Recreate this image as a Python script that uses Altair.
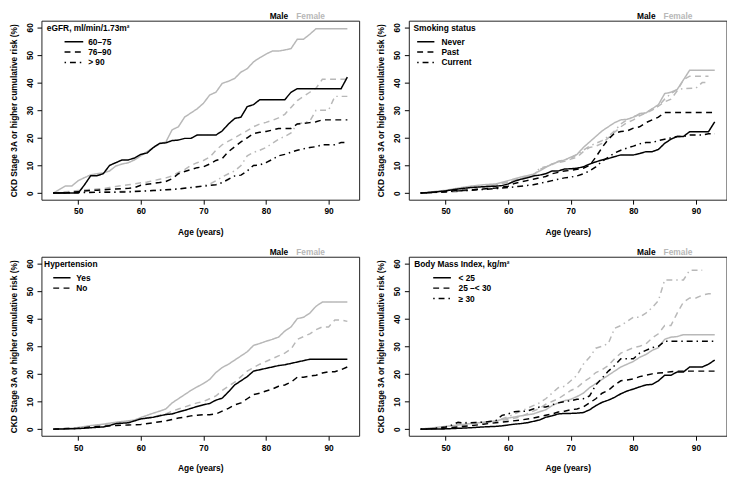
import altair as alt
import pandas as pd

FONT = "Liberation Sans"
BLACK = "#000000"
GREY = "#b8b8b8"
SEXES = ["Male", "Female"]
SEX_COLORS = [BLACK, GREY]
DASHES = [[1, 0], [6, 4.5], [1.5, 4, 6, 4]]
X_TICKS = [50, 60, 70, 80, 90]
Y_TICKS = [0, 10, 20, 30, 40, 50, 60]
X_DOMAIN = [44.12, 94.88]
Y_DOMAIN = [-2.4, 62.4]
X_TITLE = "Age (years)"
Y_TITLE = "CKD Stage 3A or higher cumulative risk (%)"

# ---- eGFR panel ----
egfr_groups = ["60–75", "76–90", "> 90"]
egfr_male_6075 = [(46,0),(50,0),(51,3),(52,6.3),(53,6.3),(54,7),(55,10),(56,11),(57,12),(58,12),(59,12.7),(60,14),(61,14.5),(62,16.5),(63,18),(64,18.2),(65,19),(66,19.2),(67,19.8),(68,19.8),(69,21),(72,21),(73,22.5),(74,25),(75,27),(76,27.5),(77,31.3),(78,32),(79,33.8),(83,33.8),(84,36.5),(85,37.8),(92,37.8),(93,42)]
egfr_female_6075 = [(46,0),(47,1.3),(48,2.6),(49,2.6),(50,4.5),(51,5.6),(52,6.6),(53,7),(54,7.3),(55,8),(56,9.8),(57,10.5),(58,11),(59,12),(60,13.5),(61,15),(62,16.5),(63,17.8),(64,18.5),(65,22.9),(66,24),(67,27.5),(68,29),(69,30.5),(70,32.5),(71,35.5),(72,36.5),(73,39.7),(74,40.5),(75,41.5),(76,43.8),(77,45),(78,47.5),(79,49),(80,50.3),(81,51.4),(82,51.4),(83,51.8),(84,52.3),(85,55.7),(86,55.7),(87,57.5),(88,59.5),(93,59.5)]
egfr_male_7690 = [(46,0),(48,0),(49,0.3),(50,0.5),(52,1),(53,1),(54,1.2),(56,1.5),(58,1.7),(59,2),(60,2.8),(61,3.2),(62,3.5),(63,3.8),(64,4.2),(65,5.2),(66,7),(67,7.8),(68,8.5),(69,9.2),(70,9.5),(71,10.5),(72,11.8),(73,12.5),(74,15),(75,16.8),(76,18.5),(77,20),(78,21.5),(79,22),(80,22.3),(81,22.8),(82,23.4),(84,23.4),(85,25),(86,25.2),(87,25.5),(88,25.8),(89,26.5),(93,26.5)]
egfr_female_7690 = [(46,0),(47,0.2),(48,0.5),(50,0.9),(52,1.3),(54,1.6),(55,2),(56,2.4),(57,2.7),(58,3),(59,3.3),(60,3.7),(61,4),(62,4.5),(63,5),(64,5.5),(65,6.2),(66,7.5),(67,8.5),(68,10),(69,11),(70,11.8),(71,13),(72,15.5),(73,17.5),(74,18.8),(75,20),(76,21.3),(77,22.6),(78,24),(79,25),(80,25.6),(81,26.3),(82,27.2),(83,28.5),(84,31),(85,33.5),(86,35),(87,36.5),(88,38),(89,41.2),(93,41.2)]
egfr_male_90 = [(46,0),(50,0.2),(55,0.3),(58,0.4),(60,0.7),(62,0.9),(64,1.2),(66,1.5),(68,2),(70,2.5),(72,3),(73,3.8),(74,5),(75,6.2),(76,6.5),(77,8),(78,10),(79,10.2),(80,11),(81,12.2),(82,13.5),(83,14),(84,14.8),(85,15.5),(86,16),(87,16.5),(88,16.8),(89,17.5),(91,17.5),(92,18.3),(93,18.3)]
egfr_female_90 = [(46,0),(50,0.3),(55,0.5),(60,0.8),(65,1.3),(68,2),(70,2.8),(71,3.3),(72,4.5),(73,5.8),(74,7),(75,8),(76,10),(77,13.5),(78,14.7),(79,15.5),(80,16.5),(81,18),(82,19.5),(83,20.5),(84,21.8),(85,25),(86,25.5),(87,26),(88,30),(90,30),(91,35),(93,35)]

# ---- Smoking panel ----
smoke_groups = ["Never", "Past", "Current"]
smoke_male_never = [(46,0),(48,0.3),(50,0.8),(52,1.5),(54,2),(56,2.3),(58,2.5),(59,2.7),(60,3.3),(61,4.3),(62,5),(63,5.5),(64,6.2),(65,6.5),(66,7),(67,8),(68,8),(69,8.7),(70,8.8),(71,9),(72,9.5),(73,10.5),(74,11.3),(75,12),(76,12.5),(77,13.2),(78,13.8),(80,13.8),(81,14.3),(82,15),(83,15),(84,15.8),(85,18),(86,19.5),(87,20.5),(88,20.5),(89,22.2),(92,22.2),(93,25.8)]
smoke_female_never = [(46,0),(48,0.5),(50,1),(52,1.8),(54,2.5),(56,3),(58,3.3),(60,4.5),(62,5.8),(64,6.8),(65,8),(66,9.3),(67,10.5),(68,11.3),(69,12),(70,13),(71,14),(72,16.5),(73,18.5),(74,20.5),(75,22.5),(76,24),(77,25.5),(78,26.5),(79,26.7),(80,27.5),(81,28.8),(82,29),(83,30.5),(84,32),(85,36),(86,36.5),(87,37.5),(88,41),(89,44.5),(93,44.5)]
smoke_male_past = [(46,0),(48,0.3),(50,0.5),(52,1),(54,1.2),(56,1.5),(58,1.8),(60,2.5),(61,3.5),(62,4),(63,4.5),(64,5),(65,5.5),(66,6),(67,7),(68,7.5),(69,8),(70,8.2),(71,8.6),(72,9),(73,10),(74,13),(75,16.5),(76,19.5),(77,21.7),(78,22.3),(79,22.5),(80,23.5),(81,24),(82,25.5),(83,26.5),(84,27.5),(85,29.2),(93,29.2)]
smoke_female_past = [(46,0),(48,0.2),(50,0.3),(52,0.5),(54,1),(56,2),(58,3),(60,4),(62,5.5),(64,6.5),(65,8.5),(66,9.5),(67,10.5),(68,11),(69,11.5),(70,12.3),(71,13),(72,15),(73,16.5),(74,17),(75,18),(76,20),(77,22),(78,24),(79,25.5),(80,26.5),(81,28),(82,29),(83,30.5),(84,31.5),(85,33),(86,34),(87,37),(88,41),(89,42.3),(92,42.3)]
smoke_male_current = [(46,0),(50,0.5),(52,0.8),(54,1),(56,1.3),(58,1.6),(60,2),(62,2.5),(64,3),(65,3.5),(66,4),(67,4.5),(68,5),(69,5.5),(70,5.8),(71,6.2),(72,7),(73,8),(74,9.5),(75,11.5),(76,13),(77,14.5),(78,15.5),(79,16.3),(80,17),(81,17.8),(82,18.3),(83,18.3),(84,19),(85,19.5),(86,20),(87,20.5),(88,20.5),(89,21),(91,21),(92,21.5),(93,21.5)]
smoke_female_current = [(46,0),(50,0.7),(52,1.5),(54,2),(56,2.5),(58,3),(60,4),(62,5),(64,6),(65,9),(66,9.5),(67,10.3),(68,11.5),(69,12),(70,12.5),(71,14),(72,15.5),(73,17),(74,18),(75,19),(76,20.5),(77,22.5),(78,25),(79,26.5),(80,27.5),(81,28.5),(82,29),(83,30),(84,31.5),(85,34),(86,36),(87,37.5),(88,37.8),(90,38),(91,40),(92,40)]

# ---- Hypertension panel ----
htn_groups = ["Yes", "No"]
htn_male_yes = [(46,0),(48,0.1),(50,0.2),(52,0.5),(54,0.8),(55,1.3),(56,2),(58,2.3),(59,3),(60,3.7),(61,4),(62,4.3),(63,4.8),(64,5.3),(65,5.5),(66,6.2),(67,6.8),(68,7.5),(69,8.2),(70,8.8),(71,9.3),(72,10.5),(73,11.2),(74,13.5),(75,16),(76,17.5),(77,19),(78,21),(79,21.5),(80,22),(81,22.5),(82,23),(83,23.3),(84,23.8),(85,24.3),(86,24.8),(87,25.3),(93,25.3)]
htn_female_yes = [(46,0),(49,0.3),(50,0.6),(52,1.3),(54,1.8),(56,2.5),(58,3),(59,3.3),(60,4.2),(61,5),(62,5.8),(63,6.5),(64,7.3),(65,9.5),(66,11),(67,12.5),(68,14),(69,15.3),(70,16.5),(71,18),(72,20.5),(73,22.3),(74,23.5),(75,25),(76,26.5),(77,28),(78,30.3),(79,31),(80,31.8),(81,32.5),(82,33.3),(83,35.5),(84,37),(85,40),(86,40.5),(87,42),(88,44.5),(89,46),(93,46)]
htn_male_no = [(46,0),(50,0.3),(52,0.8),(54,1),(56,1.3),(58,1.5),(60,1.7),(62,2.3),(64,3),(66,4),(67,4.3),(68,4.8),(69,5),(70,5.2),(71,5.2),(72,5.5),(73,6.5),(74,7.5),(75,8.8),(76,9.5),(77,11),(78,12.5),(79,13),(80,13.8),(81,14.5),(82,15.5),(83,16),(84,17),(85,18.8),(86,18.8),(87,19.2),(88,19.5),(89,20.3),(90,20.8),(91,20.8),(92,21.5),(93,22.5)]
htn_female_no = [(46,0),(50,0.5),(52,1),(54,1.5),(56,2.3),(58,2.8),(60,3.8),(62,4.5),(64,5.5),(65,6.5),(66,7.3),(67,8),(68,8.8),(69,9.5),(70,10),(71,11),(72,12),(73,14),(74,15.5),(75,17),(76,19),(77,21),(78,22.3),(79,23.5),(80,24.5),(81,25.5),(82,26.5),(83,27.5),(84,29),(85,32.5),(86,33.5),(87,34.5),(88,36),(89,37),(90,37),(91,39.5),(92,39.5),(93,39)]

# ---- BMI panel ----
bmi_groups = ["< 25", "25 –< 30", "≥ 30"]
bmi_male_25 = [(46,0),(48,0),(50,0.1),(52,0.3),(54,0.5),(56,0.8),(58,1),(59,1.2),(60,1.5),(61,1.8),(62,2),(63,2.3),(64,2.8),(65,3.3),(66,4.3),(67,4.8),(68,5.5),(69,5.7),(70,5.7),(71,5.8),(72,6),(73,7),(74,8.5),(75,9.7),(76,10.5),(77,11.5),(78,12.8),(79,13.8),(80,14.5),(81,15.3),(82,16),(83,16.2),(84,17.5),(85,19.5),(86,19.5),(87,20.7),(88,20.7),(89,22.5),(91,22.5),(92,23.5),(93,25)]
bmi_female_25 = [(46,0),(48,0.5),(50,1),(52,1.5),(54,2),(56,2.5),(58,3),(60,4),(62,4.8),(64,5.5),(65,6.3),(66,7),(67,8.5),(68,9.5),(69,10.3),(70,10.8),(71,11.8),(72,13),(73,15),(74,16.5),(75,18),(76,19.5),(77,21),(78,22.5),(79,23.5),(80,24.5),(81,26),(82,27),(83,28.5),(84,29.5),(85,32.5),(86,33.3),(87,33.5),(88,34.2),(93,34.2)]
bmi_male_2530 = [(46,0),(50,0.3),(52,0.8),(54,1.2),(56,1.8),(58,2.3),(60,2.8),(62,3.3),(64,4),(65,4.5),(66,5),(67,5.5),(68,6.2),(69,6.5),(70,7),(71,7.3),(72,8),(73,9.5),(74,11),(75,13),(76,14),(77,16),(78,17.5),(79,17.8),(80,18.2),(81,19),(82,19.5),(83,20),(84,20.3),(85,20.5),(86,20.8),(87,21),(93,21)]
bmi_female_2530 = [(46,0),(50,0.5),(52,1.3),(54,1.8),(56,2.3),(58,2.8),(60,3.5),(62,4.5),(63,5.5),(64,6.5),(65,7.5),(66,9),(67,10),(68,11),(69,12.5),(70,14),(71,15),(72,17),(73,18.5),(74,20.5),(75,21.5),(76,23),(77,25.5),(78,27.5),(79,28.5),(80,29.5),(81,30),(82,30.8),(83,33),(84,34.5),(85,37.5),(86,37.5),(87,42),(88,46),(89,47.5),(90,47.5),(91,48.5),(92,49),(93,49)]
bmi_male_30 = [(46,0),(48,0.2),(50,0.8),(51,1.5),(52,2.5),(53,2.2),(54,2.3),(56,2.5),(58,3),(59,5),(60,5.5),(61,6.3),(62,6.5),(63,6.5),(64,7.3),(65,8),(66,8),(67,8.8),(68,9.5),(69,10),(70,10.3),(71,10.8),(72,11),(73,12),(74,16),(75,18.5),(76,21),(77,23),(78,25.5),(80,25.5),(81,27.5),(82,28.5),(83,29.5),(84,30),(85,31.8),(93,31.8)]
bmi_female_30 = [(46,0),(50,0.5),(52,1.8),(53,2.5),(54,2.3),(56,2.5),(58,3),(60,4.5),(62,6.5),(63,7.5),(64,8.5),(65,9.5),(66,11),(67,13),(68,15),(69,15.5),(70,17.5),(71,19.5),(72,23.5),(73,26),(74,29.3),(75,30),(76,31),(77,36.5),(78,37.5),(79,39),(80,40.5),(81,40.5),(82,42),(83,44),(84,46.5),(85,54),(88,54),(89,57.5),(91,57.5)]

W, H = 323, 182
FS = 8.5


def build_df(series):
    rows = []
    for (sex, grp), pts in series:
        for a, v in pts:
            rows.append({"age": a, "risk": v, "sex": sex, "group": grp})
    return pd.DataFrame(rows)


X_AXIS = alt.Axis(values=X_TICKS, title=X_TITLE, labelAngle=0, labelPadding=3, titlePadding=12)
Y_AXIS = alt.Axis(values=Y_TICKS, title=Y_TITLE, labelAngle=270, labelAlign="center",
                  labelBaseline="bottom", labelPadding=3, titlePadding=7)


def panel(series, groups, legend_title, lx):
    df = build_df(series)
    dash_scale = alt.Scale(domain=groups, range=DASHES[:len(groups)])
    color_scale = alt.Scale(domain=SEXES, range=SEX_COLORS)
    x = alt.X("age:Q", scale=alt.Scale(domain=X_DOMAIN, nice=False, zero=False), axis=X_AXIS)
    y = alt.Y("risk:Q", scale=alt.Scale(domain=Y_DOMAIN, nice=False, zero=False), axis=Y_AXIS)
    layers = []
    for sx in ["Female", "Male"]:
        layers.append(
            alt.Chart(df[df["sex"] == sx]).mark_line(strokeWidth=1.5).encode(
                x=x, y=y,
                color=alt.Color("sex:N", scale=color_scale, legend=None),
                strokeDash=alt.StrokeDash("group:N", scale=dash_scale, legend=None),
                detail="group:N",
            )
        )
    # legend (title, key lines, labels)
    layers.append(
        alt.Chart(pd.DataFrame({"t": [legend_title]})).mark_text(
            align="left", baseline="middle", font=FONT, fontSize=FS, fontWeight="bold", color=BLACK
        ).encode(text="t:N", x=alt.value(lx[0]), y=alt.value(7))
    )
    for i, g in enumerate(groups):
        gdf = pd.DataFrame({"group": [g]})
        yy = 21.3 + 10.6 * i
        layers.append(
            alt.Chart(gdf).mark_rule(strokeWidth=1.5, color=BLACK).encode(
                x=alt.value(lx[1]), x2=alt.value(lx[2]), y=alt.value(yy),
                strokeDash=alt.StrokeDash("group:N", scale=dash_scale, legend=None),
            )
        )
        layers.append(
            alt.Chart(gdf).mark_text(
                align="left", baseline="middle", font=FONT, fontSize=FS, fontWeight="bold", color=BLACK
            ).encode(text="group:N", x=alt.value(lx[3]), y=alt.value(yy))
        )
    # Male / Female header
    for sx, xpos in zip(SEXES, [232, 259]):
        layers.append(
            alt.Chart(pd.DataFrame({"sex": [sx]})).mark_text(
                align="left", baseline="alphabetic", font=FONT, fontSize=FS, fontWeight="bold"
            ).encode(
                text="sex:N", x=alt.value(xpos), y=alt.value(-1.5),
                color=alt.Color("sex:N", scale=color_scale, legend=None),
            )
        )
    return alt.layer(*layers).properties(width=W, height=H)


p1 = panel([(("Male", egfr_groups[0]), egfr_male_6075), (("Female", egfr_groups[0]), egfr_female_6075),
            (("Male", egfr_groups[1]), egfr_male_7690), (("Female", egfr_groups[1]), egfr_female_7690),
            (("Male", egfr_groups[2]), egfr_male_90), (("Female", egfr_groups[2]), egfr_female_90)],
           egfr_groups, "eGFR, ml/min/1.73m²", (5.5, 23.5, 42.5, 47.5))
p2 = panel([(("Male", smoke_groups[0]), smoke_male_never), (("Female", smoke_groups[0]), smoke_female_never),
            (("Male", smoke_groups[1]), smoke_male_past), (("Female", smoke_groups[1]), smoke_female_past),
            (("Male", smoke_groups[2]), smoke_male_current), (("Female", smoke_groups[2]), smoke_female_current)],
           smoke_groups, "Smoking status", (4.8, 8.5, 26, 33.2))
p3 = panel([(("Male", htn_groups[0]), htn_male_yes), (("Female", htn_groups[0]), htn_female_yes),
            (("Male", htn_groups[1]), htn_male_no), (("Female", htn_groups[1]), htn_female_no)],
           htn_groups, "Hypertension", (2.7, 12, 29.6, 35.3))
p4 = panel([(("Male", bmi_groups[0]), bmi_male_25), (("Female", bmi_groups[0]), bmi_female_25),
            (("Male", bmi_groups[1]), bmi_male_2530), (("Female", bmi_groups[1]), bmi_female_2530),
            (("Male", bmi_groups[2]), bmi_male_30), (("Female", bmi_groups[2]), bmi_female_30)],
           bmi_groups, "Body Mass Index, kg/m²", (5.5, 24.8, 42.8, 50.5))

row1 = alt.hconcat(p1, p2, spacing=15.5).resolve_scale(strokeDash="independent", color="shared")
row2 = alt.hconcat(p3, p4, spacing=15.5).resolve_scale(strokeDash="independent", color="shared")

chart = (
    alt.vconcat(row1, row2, spacing=12)
    .resolve_scale(strokeDash="independent")
    .properties(padding={"left": 0, "top": 0, "right": 0, "bottom": 0})
    .configure_view(stroke="#222222", strokeWidth=1)
    .configure_axis(
        labelFont=FONT, labelFontSize=FS, labelFontWeight="bold", labelColor=BLACK,
        titleFont=FONT, titleFontSize=FS, titleFontWeight="bold", titleColor=BLACK,
        tickColor=BLACK, tickSize=4.5, tickWidth=1, domain=False, grid=False,
        labelFlush=False, labelOverlap=False,
    )
)

chart.save("out.html", embed_options={"renderer": "svg", "actions": False})
